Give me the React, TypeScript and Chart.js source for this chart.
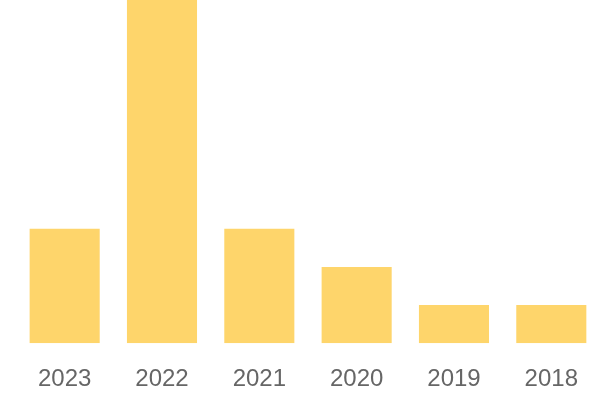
import React, { useEffect, useRef } from "react";
import { Chart, registerables } from "chart.js";

Chart.register(...registerables);

const categories = ["2023", "2022", "2021", "2020", "2019", "2018"];
const values = [3, 9, 3, 2, 1, 1];
const yMax = 9;

export default function App() {
  const ref = useRef<HTMLCanvasElement | null>(null);
  useEffect(() => {
    document.body.style.margin = "0";
    const chart = new Chart(ref.current!, {
      type: "bar",
      data: {
        labels: categories,
        datasets: [
          {
            data: values,
            backgroundColor: "#FED56B",
            borderWidth: 0,
          },
        ],
      },
      options: {
        animation: false,
        responsive: false,
        layout: { padding: { left: 16, right: 0, top: 0, bottom: -16 } },
        plugins: { legend: { display: false }, tooltip: { enabled: false } },
        scales: {
          x: {
            grid: { display: false, drawTicks: false },
            border: { display: false },
            ticks: {
              padding: 22,
              color: "#666",
              font: { size: 24, family: "'Liberation Sans', Arial, sans-serif" },
            },
          },
          y: { display: false, min: 0, max: yMax },
        },
      },
    });
    return () => chart.destroy();
  }, []);
  return <canvas ref={ref} width={600} height={400} style={{ display: "block" }} />;
}
